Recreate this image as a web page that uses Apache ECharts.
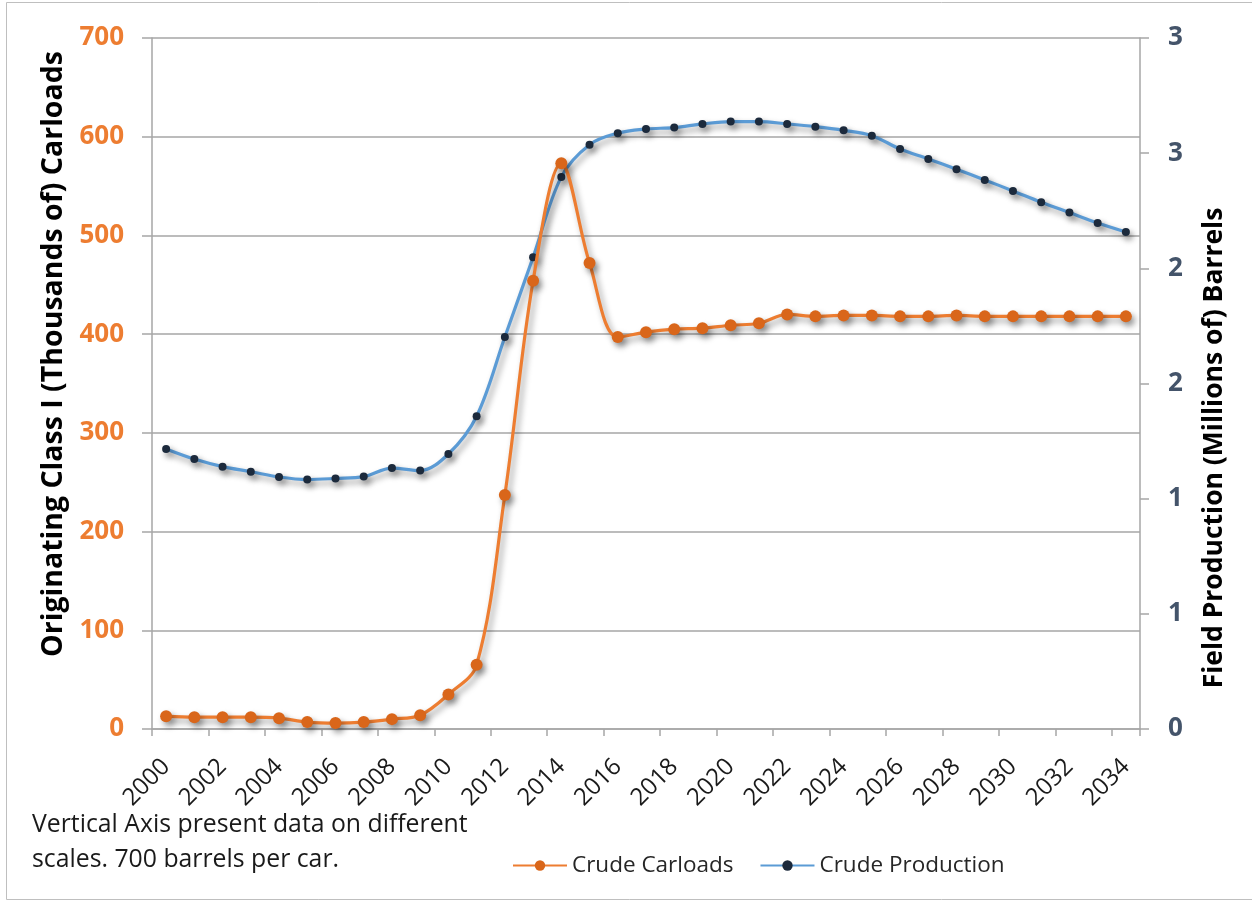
<!DOCTYPE html>
<html>
<head>
<meta charset="utf-8">
<script src="https://cdn.jsdelivr.net/npm/echarts@6/dist/echarts.min.js"></script>
<style>
html,body{margin:0;padding:0;background:#fff;}
#chart{width:1252px;height:901px;}
</style>
</head>
<body>
<div id="chart"></div>
<script>
// ---- data ----
const years = ['2000','2001','2002','2003','2004','2005','2006','2007','2008','2009',
  '2010','2011','2012','2013','2014','2015','2016','2017','2018','2019',
  '2020','2021','2022','2023','2024','2025','2026','2027','2028','2029',
  '2030','2031','2032','2033','2034'];
const crudeCarloads = [13, 12, 12, 12, 11, 7, 6, 7, 10, 14,
  35, 65, 237, 454, 573, 472, 397, 402, 405, 406,
  409, 411, 420, 418, 419, 419, 418, 418, 419, 418,
  418, 418, 418, 418, 418];
const crudeProduction = [1.216, 1.172, 1.139, 1.117, 1.094, 1.083, 1.088, 1.096, 1.133, 1.122,
  1.194, 1.358, 1.702, 2.048, 2.397, 2.537, 2.587, 2.605, 2.611, 2.627,
  2.637, 2.637, 2.627, 2.615, 2.599, 2.576, 2.518, 2.475, 2.430, 2.384,
  2.336, 2.287, 2.242, 2.197, 2.158];
const leftTicks = {min: 0, max: 700, interval: 100};
const rightTicks = {min: 0, max: 3, interval: 0.5};
const leftTitle = 'Originating Class I (Thousands of) Carloads';
const rightTitle = 'Field Production (Millions of) Barrels';
const noteLines = ['Vertical Axis present data on different', 'scales. 700 barrels per car.'];

const FONT = '"Open Sans", "Noto Sans", sans-serif';
const chart = echarts.init(document.getElementById('chart'));
const shadow = {shadowColor: 'rgba(0,0,0,0.4)', shadowBlur: 6, shadowOffsetX: 3, shadowOffsetY: 4};

chart.setOption({
  animation: false,
  backgroundColor: '#ffffff',
  grid: {left: 152, right: 112, top: 38, bottom: 172, containLabel: false},
  legend: {
    left: 507, top: 849,
    itemWidth: 54, itemHeight: 13, itemGap: 26,
    textStyle: {fontFamily: FONT, fontSize: 22.5, color: '#262626'},
    data: ['Crude Carloads', 'Crude Production']
  },
  xAxis: {
    type: 'category', data: years, boundaryGap: true,
    axisLine: {lineStyle: {color: '#a6a6a6', width: 1.5}},
    axisTick: {show: true, interval: 1, length: 7, lineStyle: {color: '#a6a6a6', width: 1.5}},
    axisLabel: {interval: 1, rotate: 45, margin: 34, fontFamily: FONT, fontSize: 24, color: '#1a1a1a'},
    splitLine: {show: false}
  },
  yAxis: [{
    type: 'value', position: 'left', min: leftTicks.min, max: leftTicks.max, interval: leftTicks.interval,
    axisLine: {show: true, lineStyle: {color: '#a6a6a6', width: 1.5}},
    axisTick: {show: true, length: 10, lineStyle: {color: '#a6a6a6', width: 1.5}},
    axisLabel: {margin: 28, fontFamily: FONT, fontSize: 26, fontWeight: 'bold', color: '#ED7D31'},
    splitLine: {show: true, lineStyle: {color: '#a6a6a6', width: 1.5}}
  }, {
    type: 'value', position: 'right', min: rightTicks.min, max: rightTicks.max, interval: rightTicks.interval,
    axisLine: {show: true, lineStyle: {color: '#a6a6a6', width: 1.5}},
    axisTick: {show: true, length: 9, lineStyle: {color: '#a6a6a6', width: 1.5}},
    axisLabel: {margin: 28, fontFamily: FONT, fontSize: 26, fontWeight: 'bold', color: '#44546A',
      formatter: v => String(Math.round(v))},
    splitLine: {show: false}
  }],
  series: [{
    name: 'Crude Carloads', type: 'line', yAxisIndex: 0, data: crudeCarloads,
    smooth: 0.35, symbol: 'circle', symbolSize: 12, z: 3,
    lineStyle: Object.assign({color: '#ED7D31', width: 3.2}, shadow),
    itemStyle: Object.assign({color: '#D9661A'}, shadow)
  }, {
    name: 'Crude Production', type: 'line', yAxisIndex: 1, data: crudeProduction,
    smooth: 0.35, symbol: 'circle', symbolSize: 8, z: 2,
    lineStyle: Object.assign({color: '#5B9BD5', width: 3.2}, shadow),
    itemStyle: Object.assign({color: '#1C2A3C'}, shadow)
  }],
  graphic: [
    {type: 'rect', shape: {x: 6.5, y: 2.5, width: 1260, height: 897}, style: {fill: 'none', stroke: '#bfbfbf', lineWidth: 1}, silent: true},
    {type: 'text', x: 54, y: 354, rotation: Math.PI / 2,
      style: {text: leftTitle, fontFamily: FONT, fontSize: 28.5, fontWeight: 'bold', fill: '#000', align: 'center', verticalAlign: 'middle'}},
    {type: 'text', x: 1214, y: 448, rotation: Math.PI / 2,
      style: {text: rightTitle, fontFamily: FONT, fontSize: 26.5, fontWeight: 'bold', fill: '#000', align: 'center', verticalAlign: 'middle'}},
    {type: 'text', x: 32, y: 825,
      style: {text: noteLines[0], fontFamily: FONT, fontSize: 24.8, fill: '#1a1a1a', align: 'left', verticalAlign: 'middle'}},
    {type: 'text', x: 32, y: 860,
      style: {text: noteLines[1], fontFamily: FONT, fontSize: 24.8, fill: '#1a1a1a', align: 'left', verticalAlign: 'middle'}}
  ]
});
</script>
</body>
</html>
